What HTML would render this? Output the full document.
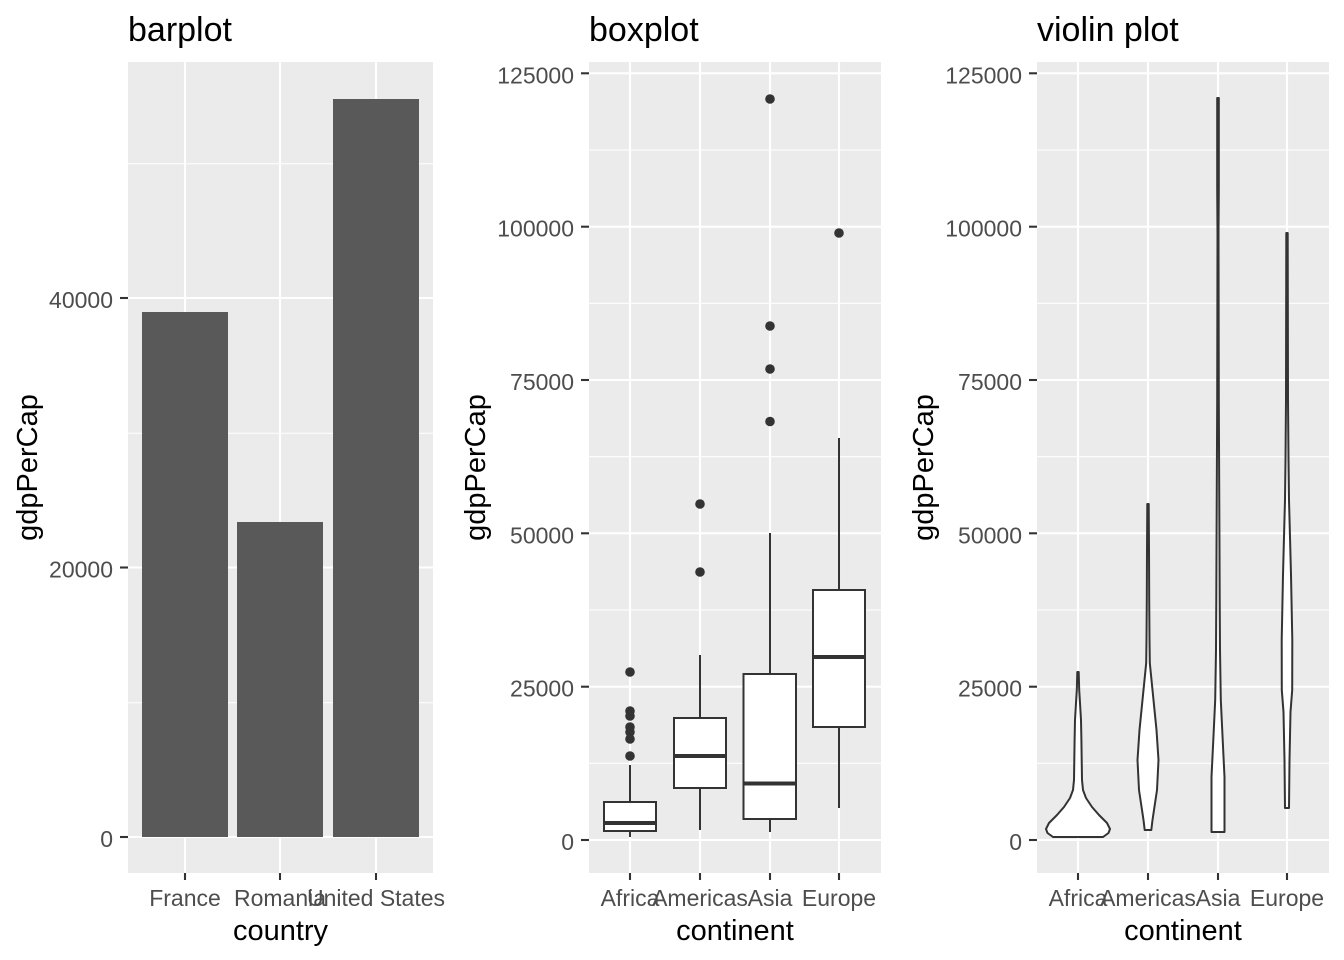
<!DOCTYPE html>
<html>
<head>
<meta charset="utf-8">
<style>
html,body{margin:0;padding:0;background:#fff;}
svg{display:block;}
text{font-family:"Liberation Sans",Arial,sans-serif;}
.tk{font-size:23px;fill:#4D4D4D;}
.at{font-size:29px;fill:#000;}
.tt{font-size:34px;fill:#000;}
.maj{stroke:#fff;stroke-width:2.1;}
.min{stroke:#fff;stroke-width:1.1;}
.tick{stroke:#333;stroke-width:2.1;}
.bx{fill:#fff;stroke:#333;stroke-width:2;}
.wh{stroke:#333;stroke-width:2;}
.md{stroke:#333;stroke-width:4;}
.vl{fill:#fff;stroke:#333;stroke-width:2;stroke-linejoin:round;}
</style>
</head>
<body>
<svg width="1344" height="960" viewBox="0 0 1344 960" xmlns="http://www.w3.org/2000/svg">
<rect width="1344" height="960" fill="#fff"/>

<!-- ============ PANEL 1: barplot ============ -->
<text class="tt" x="128" y="41">barplot</text>
<rect x="128" y="62" width="305" height="811" fill="#EBEBEB"/>
<line class="min" x1="128" x2="433" y1="702.75" y2="702.75"/>
<line class="min" x1="128" x2="433" y1="433.25" y2="433.25"/>
<line class="min" x1="128" x2="433" y1="163.75" y2="163.75"/>
<line class="maj" x1="128" x2="433" y1="837" y2="837"/>
<line class="maj" x1="128" x2="433" y1="567.5" y2="567.5"/>
<line class="maj" x1="128" x2="433" y1="298" y2="298"/>
<line class="maj" x1="185" x2="185" y1="62" y2="873"/>
<line class="maj" x1="280" x2="280" y1="62" y2="873"/>
<line class="maj" x1="376" x2="376" y1="62" y2="873"/>
<rect x="142" y="312" width="86" height="525" fill="#595959"/>
<rect x="237" y="522" width="86" height="315" fill="#595959"/>
<rect x="333" y="99" width="86" height="738" fill="#595959"/>
<line class="tick" x1="120" x2="128" y1="837" y2="837"/>
<line class="tick" x1="120" x2="128" y1="567.5" y2="567.5"/>
<line class="tick" x1="120" x2="128" y1="298" y2="298"/>
<text class="tk" x="113" y="847" text-anchor="end">0</text>
<text class="tk" x="113" y="577.5" text-anchor="end">20000</text>
<text class="tk" x="113" y="308" text-anchor="end">40000</text>
<line class="tick" x1="185" x2="185" y1="873" y2="880"/>
<line class="tick" x1="280" x2="280" y1="873" y2="880"/>
<line class="tick" x1="376" x2="376" y1="873" y2="880"/>
<text class="tk" x="185" y="906" text-anchor="middle">France</text>
<text class="tk" x="280" y="906" text-anchor="middle">Romania</text>
<text class="tk" x="376" y="906" text-anchor="middle">United States</text>
<text class="at" x="280.5" y="940" text-anchor="middle">country</text>
<text class="at" transform="translate(37,467.5) rotate(-90)" text-anchor="middle">gdpPerCap</text>

<!-- ============ PANEL 2: boxplot ============ -->
<text class="tt" x="589" y="41">boxplot</text>
<rect x="589" y="62" width="292" height="811" fill="#EBEBEB"/>
<g>
<line class="min" x1="589" x2="881" y1="763.3" y2="763.3"/>
<line class="min" x1="589" x2="881" y1="610" y2="610"/>
<line class="min" x1="589" x2="881" y1="456.7" y2="456.7"/>
<line class="min" x1="589" x2="881" y1="303.3" y2="303.3"/>
<line class="min" x1="589" x2="881" y1="150" y2="150"/>
<line class="maj" x1="589" x2="881" y1="840" y2="840"/>
<line class="maj" x1="589" x2="881" y1="686.7" y2="686.7"/>
<line class="maj" x1="589" x2="881" y1="533.3" y2="533.3"/>
<line class="maj" x1="589" x2="881" y1="380" y2="380"/>
<line class="maj" x1="589" x2="881" y1="226.7" y2="226.7"/>
<line class="maj" x1="589" x2="881" y1="73.3" y2="73.3"/>
<line class="maj" x1="630" x2="630" y1="62" y2="873"/>
<line class="maj" x1="700" x2="700" y1="62" y2="873"/>
<line class="maj" x1="770" x2="770" y1="62" y2="873"/>
<line class="maj" x1="839" x2="839" y1="62" y2="873"/>
</g>
<!-- Africa -->
<line class="wh" x1="630" x2="630" y1="802" y2="765"/>
<line class="wh" x1="630" x2="630" y1="831" y2="837"/>
<rect class="bx" x="604" y="802" width="52" height="29"/>
<line class="md" x1="604" x2="656" y1="823" y2="823"/>
<g fill="#333">
<circle cx="630" cy="672" r="4.8"/>
<circle cx="630" cy="711" r="4.8"/>
<circle cx="630" cy="716" r="4.8"/>
<circle cx="630" cy="727" r="4.8"/>
<circle cx="630" cy="732" r="4.8"/>
<circle cx="630" cy="739" r="4.8"/>
<circle cx="630" cy="756" r="4.8"/>
</g>
<!-- Americas -->
<line class="wh" x1="700" x2="700" y1="718" y2="655"/>
<line class="wh" x1="700" x2="700" y1="788" y2="830"/>
<rect class="bx" x="674" y="718" width="52" height="70"/>
<line class="md" x1="674" x2="726" y1="756" y2="756"/>
<g fill="#333">
<circle cx="700" cy="504" r="4.8"/>
<circle cx="700" cy="572" r="4.8"/>
</g>
<!-- Asia -->
<line class="wh" x1="770" x2="770" y1="674" y2="533"/>
<line class="wh" x1="770" x2="770" y1="819" y2="832"/>
<rect class="bx" x="743.5" y="674" width="52.5" height="145"/>
<line class="md" x1="743.5" x2="796" y1="783.5" y2="783.5"/>
<g fill="#333">
<circle cx="770" cy="99" r="4.8"/>
<circle cx="770" cy="326" r="4.8"/>
<circle cx="770" cy="369" r="4.8"/>
<circle cx="770" cy="421.5" r="4.8"/>
</g>
<!-- Europe -->
<line class="wh" x1="839" x2="839" y1="590" y2="438"/>
<line class="wh" x1="839" x2="839" y1="727" y2="808"/>
<rect class="bx" x="813" y="590" width="52" height="137"/>
<line class="md" x1="813" x2="865" y1="657" y2="657"/>
<circle cx="839" cy="233" r="4.8" fill="#333"/>
<!-- axes -->
<g>
<line class="tick" x1="581" x2="589" y1="840" y2="840"/>
<line class="tick" x1="581" x2="589" y1="686.7" y2="686.7"/>
<line class="tick" x1="581" x2="589" y1="533.3" y2="533.3"/>
<line class="tick" x1="581" x2="589" y1="380" y2="380"/>
<line class="tick" x1="581" x2="589" y1="226.7" y2="226.7"/>
<line class="tick" x1="581" x2="589" y1="73.3" y2="73.3"/>
</g>
<text class="tk" x="574" y="850" text-anchor="end">0</text>
<text class="tk" x="574" y="696.7" text-anchor="end">25000</text>
<text class="tk" x="574" y="543.3" text-anchor="end">50000</text>
<text class="tk" x="574" y="390" text-anchor="end">75000</text>
<text class="tk" x="574" y="236.7" text-anchor="end">100000</text>
<text class="tk" x="574" y="83.3" text-anchor="end">125000</text>
<line class="tick" x1="630" x2="630" y1="873" y2="880"/>
<line class="tick" x1="700" x2="700" y1="873" y2="880"/>
<line class="tick" x1="770" x2="770" y1="873" y2="880"/>
<line class="tick" x1="839" x2="839" y1="873" y2="880"/>
<text class="tk" x="630" y="906" text-anchor="middle">Africa</text>
<text class="tk" x="700" y="906" text-anchor="middle">Americas</text>
<text class="tk" x="770" y="906" text-anchor="middle">Asia</text>
<text class="tk" x="839" y="906" text-anchor="middle">Europe</text>
<text class="at" x="735" y="940" text-anchor="middle">continent</text>
<text class="at" transform="translate(485,467.5) rotate(-90)" text-anchor="middle">gdpPerCap</text>

<!-- ============ PANEL 3: violin ============ -->
<text class="tt" x="1037" y="41">violin plot</text>
<rect x="1037" y="62" width="292" height="811" fill="#EBEBEB"/>
<g>
<line class="min" x1="1037" x2="1329" y1="763.3" y2="763.3"/>
<line class="min" x1="1037" x2="1329" y1="610" y2="610"/>
<line class="min" x1="1037" x2="1329" y1="456.7" y2="456.7"/>
<line class="min" x1="1037" x2="1329" y1="303.3" y2="303.3"/>
<line class="min" x1="1037" x2="1329" y1="150" y2="150"/>
<line class="maj" x1="1037" x2="1329" y1="840" y2="840"/>
<line class="maj" x1="1037" x2="1329" y1="686.7" y2="686.7"/>
<line class="maj" x1="1037" x2="1329" y1="533.3" y2="533.3"/>
<line class="maj" x1="1037" x2="1329" y1="380" y2="380"/>
<line class="maj" x1="1037" x2="1329" y1="226.7" y2="226.7"/>
<line class="maj" x1="1037" x2="1329" y1="73.3" y2="73.3"/>
<line class="maj" x1="1078" x2="1078" y1="62" y2="873"/>
<line class="maj" x1="1148" x2="1148" y1="62" y2="873"/>
<line class="maj" x1="1218" x2="1218" y1="62" y2="873"/>
<line class="maj" x1="1287" x2="1287" y1="62" y2="873"/>
</g>
<!-- Africa violin -->
<polygon class="vl" points="1103,837 1108.5,833 1110,829 1107,823 1099,815 1092,807 1086,798 1083,790 1082,780 1081.7,760 1081.4,740 1081,720 1080,703 1079.2,690 1078.7,672 1077.3,672 1076.8,690 1076,703 1075,720 1074.6,740 1074.3,760 1074,780 1073,790 1070,798 1064,807 1057,815 1049,823 1046,829 1047.5,833 1053,837"/>
<!-- Americas violin -->
<polygon class="vl" points="1151.3,830 1152.5,820 1154,810 1157,790 1158.5,760 1156.5,730 1154.5,710 1152.5,690 1149.8,663 1149.5,640 1149.2,600 1149,550 1148.7,504 1147.3,504 1147,550 1146.8,600 1146.5,640 1146.2,663 1143.5,690 1141.5,710 1139.5,730 1137.5,760 1139,790 1142,810 1143.5,820 1144.7,830"/>
<!-- Asia violin -->
<polygon class="vl" points="1224.5,832 1224.5,777 1222.7,740 1220.8,700 1220,650 1219.7,600 1219.5,552 1218.8,400 1218.5,235 1218.8,188 1218.8,98 1217.2,98 1217.2,188 1217.5,235 1217.2,400 1216.5,552 1216.3,600 1216,650 1215.2,700 1213.3,740 1211.5,777 1211.5,832"/>
<!-- Europe violin -->
<polygon class="vl" points="1289,808 1289.5,760 1290.5,712 1292.2,690 1292.3,640 1292,625 1291,575 1290,537 1289,500 1288.5,460 1288,400 1287.7,233 1286.3,233 1286,400 1285.5,460 1285,500 1284,537 1283,575 1282,625 1281.7,640 1281.8,690 1283.5,712 1284.5,760 1285,808"/>
<!-- axes -->
<g>
<line class="tick" x1="1029" x2="1037" y1="840" y2="840"/>
<line class="tick" x1="1029" x2="1037" y1="686.7" y2="686.7"/>
<line class="tick" x1="1029" x2="1037" y1="533.3" y2="533.3"/>
<line class="tick" x1="1029" x2="1037" y1="380" y2="380"/>
<line class="tick" x1="1029" x2="1037" y1="226.7" y2="226.7"/>
<line class="tick" x1="1029" x2="1037" y1="73.3" y2="73.3"/>
</g>
<text class="tk" x="1022" y="850" text-anchor="end">0</text>
<text class="tk" x="1022" y="696.7" text-anchor="end">25000</text>
<text class="tk" x="1022" y="543.3" text-anchor="end">50000</text>
<text class="tk" x="1022" y="390" text-anchor="end">75000</text>
<text class="tk" x="1022" y="236.7" text-anchor="end">100000</text>
<text class="tk" x="1022" y="83.3" text-anchor="end">125000</text>
<line class="tick" x1="1078" x2="1078" y1="873" y2="880"/>
<line class="tick" x1="1148" x2="1148" y1="873" y2="880"/>
<line class="tick" x1="1218" x2="1218" y1="873" y2="880"/>
<line class="tick" x1="1287" x2="1287" y1="873" y2="880"/>
<text class="tk" x="1078" y="906" text-anchor="middle">Africa</text>
<text class="tk" x="1148" y="906" text-anchor="middle">Americas</text>
<text class="tk" x="1218" y="906" text-anchor="middle">Asia</text>
<text class="tk" x="1287" y="906" text-anchor="middle">Europe</text>
<text class="at" x="1183" y="940" text-anchor="middle">continent</text>
<text class="at" transform="translate(933,467.5) rotate(-90)" text-anchor="middle">gdpPerCap</text>
</svg>
</body>
</html>
